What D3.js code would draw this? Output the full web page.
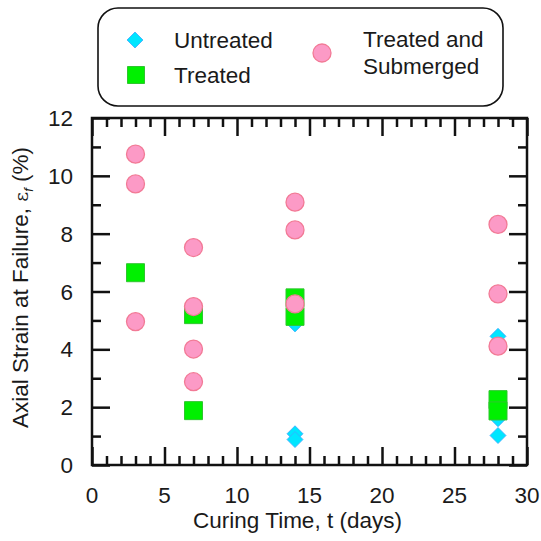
<!DOCTYPE html>
<html>
<head>
<meta charset="utf-8">
<script src="https://cdn.jsdelivr.net/npm/d3@7"></script>
<style>
  body { margin: 0; background: #fff; }
  text { font-family: "Liberation Sans", Arial, sans-serif; fill: #1a1a1a; }
</style>
</head>
<body>
<svg id="chart"></svg>
<script>
// data: [curing time (days), axial strain at failure (%)]
var untreated = [[14, 4.88], [14, 1.08], [14, 0.88], [28, 4.45], [28, 1.6], [28, 1.02]];
var treated = [[3, 6.65], [7, 5.2], [7, 1.88], [14, 5.78], [14, 5.14], [28, 2.26], [28, 1.87]];
var submerged = [[3, 10.75], [3, 9.72], [3, 4.96], [7, 7.52], [7, 5.48], [7, 4.01], [7, 2.88],
                 [14, 9.09], [14, 8.13], [14, 5.57], [28, 8.32], [28, 5.92], [28, 4.11]];
var xTicks = [0, 5, 10, 15, 20, 25, 30];
var yTicks = [0, 2, 4, 6, 8, 10, 12];

var width = 541;
var height = 541;
var margin = {left: 92, right: 14, top: 118, bottom: 76};

var svg = d3.select('#chart')
    .attr('width', width)
    .attr('height', height);

var xScale = d3.scaleLinear()
    .domain([0, 30])
    .range([margin.left, width - margin.right]);

var yScale = d3.scaleLinear()
    .domain([0, 12])
    .range([height - margin.bottom, margin.top]);

var x0 = xScale.range()[0], x1 = xScale.range()[1];
var y0 = yScale.range()[0], y1 = yScale.range()[1];

// ticks pointing inward on all four sides (major 18px, minor 9px)
var major = 18, minor = 9;
function addAxis(axis, tx, ty, ticks, len) {
    svg.append('g')
        .attr('transform', `translate(${tx}, ${ty})`)
        .call(axis.tickValues(ticks).tickSize(len).tickFormat(''))
        .call(g => g.select('.domain').remove())
        .call(g => g.selectAll('line').attr('stroke', '#111').attr('stroke-width', 2.5));
}
var xMinor = d3.range(0, 31, 1).filter(v => v % 5 !== 0);
var yMinor = d3.range(1, 12, 2);

addAxis(d3.axisTop(xScale), 0, y0, xTicks, major);
addAxis(d3.axisTop(xScale), 0, y0, xMinor, minor);
addAxis(d3.axisBottom(xScale), 0, y1, xTicks, major);
addAxis(d3.axisBottom(xScale), 0, y1, xMinor, minor);
addAxis(d3.axisRight(yScale), x0, 0, yTicks, major);
addAxis(d3.axisRight(yScale), x0, 0, yMinor, minor);
addAxis(d3.axisLeft(yScale), x1, 0, yTicks, major);
addAxis(d3.axisLeft(yScale), x1, 0, yMinor, minor);

// plot frame
svg.append('rect')
    .attr('x', x0)
    .attr('y', y1)
    .attr('width', x1 - x0)
    .attr('height', y0 - y1)
    .attr('fill', 'none')
    .attr('stroke', '#111')
    .attr('stroke-width', 2.5);

// tick labels
svg.selectAll('.xlab')
    .data(xTicks)
    .enter()
    .append('text')
    .attr('x', d => xScale(d))
    .attr('y', 503)
    .attr('text-anchor', 'middle')
    .attr('font-size', 22.5)
    .text(d => d);

svg.selectAll('.ylab')
    .data(yTicks)
    .enter()
    .append('text')
    .attr('x', 73)
    .attr('y', d => yScale(d))
    .attr('dy', '0.36em')
    .attr('text-anchor', 'end')
    .attr('font-size', 22.5)
    .text(d => d);

// axis titles
svg.append('text')
    .attr('x', (x0 + x1) / 2 - 12)
    .attr('y', 528)
    .attr('text-anchor', 'middle')
    .attr('font-size', 22.5)
    .text('Curing Time, t (days)');

var yTitle = svg.append('text')
    .attr('transform', 'rotate(-90)')
    .attr('x', -(y0 + y1) / 2 + 4)
    .attr('y', 28)
    .attr('text-anchor', 'middle')
    .attr('font-size', 22.5);
yTitle.append('tspan').text('Axial Strain at Failure, ');
yTitle.append('tspan').attr('font-family', 'DejaVu Serif').attr('font-size', 19).text('ε');
yTitle.append('tspan').attr('font-size', 13).attr('font-style', 'italic').attr('dy', 5).text('f');
yTitle.append('tspan').attr('dy', -5).text(' (%)');

// markers: square-proportioned diamond (d3's own diamond is too narrow)
var rhombus = {
    draw: function(ctx, size) {
        var r = Math.sqrt(size / 2);
        ctx.moveTo(0, -r);
        ctx.lineTo(r, 0);
        ctx.lineTo(0, r);
        ctx.lineTo(-r, 0);
        ctx.closePath();
    }
};
var diamond = d3.symbol().type(rhombus).size(128);
var square = d3.symbol().type(d3.symbolSquare).size(324);

svg.append('g').selectAll('path')
    .data(untreated)
    .enter()
    .append('path')
    .attr('d', diamond)
    .attr('transform', d => `translate(${xScale(d[0])}, ${yScale(d[1])})`)
    .attr('fill', '#00e6ff')
    .attr('stroke', '#3fa6ff')
    .attr('stroke-width', 0.8);

svg.append('g').selectAll('path')
    .data(treated)
    .enter()
    .append('path')
    .attr('d', square)
    .attr('transform', d => `translate(${xScale(d[0])}, ${yScale(d[1])})`)
    .attr('fill', '#00f000')
    .attr('stroke', '#2fc52f')
    .attr('stroke-width', 1);

svg.append('g').selectAll('circle')
    .data(submerged)
    .enter()
    .append('circle')
    .attr('cx', d => xScale(d[0]))
    .attr('cy', d => yScale(d[1]))
    .attr('r', 9)
    .attr('fill', '#fc9ac6')
    .attr('stroke', '#f27a96')
    .attr('stroke-width', 1.3);

// legend
var legend = svg.append('g');
legend.append('rect')
    .attr('x', 98)
    .attr('y', 8)
    .attr('width', 405)
    .attr('height', 98)
    .attr('rx', 20)
    .attr('fill', '#fff')
    .attr('stroke', '#111')
    .attr('stroke-width', 1.6);

legend.append('path')
    .attr('d', diamond)
    .attr('transform', 'translate(135, 40)')
    .attr('fill', '#00e6ff')
    .attr('stroke', '#3fa6ff')
    .attr('stroke-width', 0.8);
legend.append('path')
    .attr('d', d3.symbol().type(d3.symbolSquare).size(289))
    .attr('transform', 'translate(136, 75)')
    .attr('fill', '#00f000')
    .attr('stroke', '#2fc52f');
legend.append('circle')
    .attr('cx', 322)
    .attr('cy', 53)
    .attr('r', 9)
    .attr('fill', '#fc9ac6')
    .attr('stroke', '#f27a96')
    .attr('stroke-width', 1.3);

legend.append('text').attr('x', 174).attr('y', 48).attr('font-size', 22.5).text('Untreated');
legend.append('text').attr('x', 174).attr('y', 83).attr('font-size', 22.5).text('Treated');
legend.append('text').attr('x', 363).attr('y', 47).attr('font-size', 22.5).text('Treated and');
legend.append('text').attr('x', 363).attr('y', 74).attr('font-size', 22.5).text('Submerged');
</script>
</body>
</html>
